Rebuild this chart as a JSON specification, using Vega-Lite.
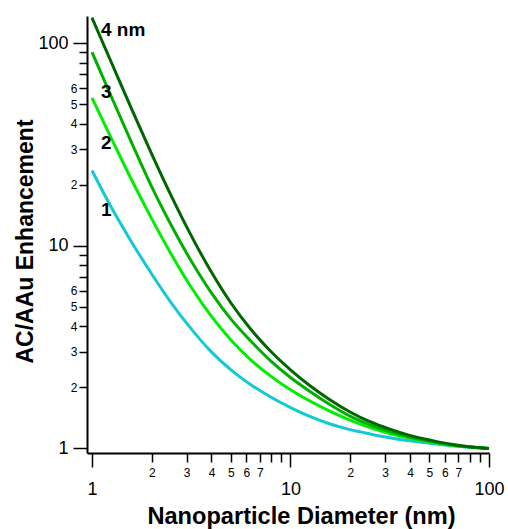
{
  "$schema": "https://vega.github.io/schema/vega-lite/v6.json",
  "width": 402,
  "height": 437,
  "autosize": {"type": "none"},
  "padding": {"left": 87, "top": 16, "right": 19, "bottom": 76},
  "background": "white",
  "config": {"view": {"stroke": null}, "font": "Liberation Sans"},
  "datasets": {
    "curves": [
      {"series": "1", "d": 1, "e": 23.5}, {"series": "1", "d": 1.259, "e": 15.31}, {"series": "1", "d": 1.585, "e": 10.42}, {"series": "1", "d": 1.995, "e": 7.28}, {"series": "1", "d": 2.512, "e": 5.22}, {"series": "1", "d": 3.162, "e": 3.89}, {"series": "1", "d": 3.981, "e": 3.006}, {"series": "1", "d": 5.012, "e": 2.443}, {"series": "1", "d": 6.31, "e": 2.065}, {"series": "1", "d": 7.943, "e": 1.795}, {"series": "1", "d": 10, "e": 1.592}, {"series": "1", "d": 12.59, "e": 1.435}, {"series": "1", "d": 15.85, "e": 1.321}, {"series": "1", "d": 19.95, "e": 1.239}, {"series": "1", "d": 25.12, "e": 1.18}, {"series": "1", "d": 31.62, "e": 1.13}, {"series": "1", "d": 39.81, "e": 1.091}, {"series": "1", "d": 50.12, "e": 1.062}, {"series": "1", "d": 63.1, "e": 1.035}, {"series": "1", "d": 79.43, "e": 1.014}, {"series": "1", "d": 100, "e": 1.0},
      {"series": "2", "d": 1, "e": 53.6}, {"series": "2", "d": 1.259, "e": 33.5}, {"series": "2", "d": 1.585, "e": 21.1}, {"series": "2", "d": 1.995, "e": 13.65}, {"series": "2", "d": 2.512, "e": 9.06}, {"series": "2", "d": 3.162, "e": 6.24}, {"series": "2", "d": 3.981, "e": 4.51}, {"series": "2", "d": 5.012, "e": 3.43}, {"series": "2", "d": 6.31, "e": 2.735}, {"series": "2", "d": 7.943, "e": 2.275}, {"series": "2", "d": 10, "e": 1.95}, {"series": "2", "d": 12.59, "e": 1.71}, {"series": "2", "d": 15.85, "e": 1.524}, {"series": "2", "d": 19.95, "e": 1.38}, {"series": "2", "d": 25.12, "e": 1.268}, {"series": "2", "d": 31.62, "e": 1.186}, {"series": "2", "d": 39.81, "e": 1.125}, {"series": "2", "d": 50.12, "e": 1.079}, {"series": "2", "d": 63.1, "e": 1.04}, {"series": "2", "d": 79.43, "e": 1.016}, {"series": "2", "d": 100, "e": 1.0},
      {"series": "3", "d": 1, "e": 90.2}, {"series": "3", "d": 1.259, "e": 53.7}, {"series": "3", "d": 1.585, "e": 32.2}, {"series": "3", "d": 1.995, "e": 19.63}, {"series": "3", "d": 2.512, "e": 12.59}, {"series": "3", "d": 3.162, "e": 8.41}, {"series": "3", "d": 3.981, "e": 5.89}, {"series": "3", "d": 5.012, "e": 4.345}, {"series": "3", "d": 6.31, "e": 3.388}, {"series": "3", "d": 7.943, "e": 2.704}, {"series": "3", "d": 10, "e": 2.239}, {"series": "3", "d": 12.59, "e": 1.905}, {"series": "3", "d": 15.85, "e": 1.644}, {"series": "3", "d": 19.95, "e": 1.445}, {"series": "3", "d": 25.12, "e": 1.309}, {"series": "3", "d": 31.62, "e": 1.211}, {"series": "3", "d": 39.81, "e": 1.14}, {"series": "3", "d": 50.12, "e": 1.089}, {"series": "3", "d": 63.1, "e": 1.045}, {"series": "3", "d": 79.43, "e": 1.019}, {"series": "3", "d": 100, "e": 1.0},
      {"series": "4 nm", "d": 1, "e": 133.4}, {"series": "4 nm", "d": 1.259, "e": 79.3}, {"series": "4 nm", "d": 1.585, "e": 47.2}, {"series": "4 nm", "d": 1.995, "e": 28.5}, {"series": "4 nm", "d": 2.512, "e": 17.58}, {"series": "4 nm", "d": 3.162, "e": 11.22}, {"series": "4 nm", "d": 3.981, "e": 7.46}, {"series": "4 nm", "d": 5.012, "e": 5.22}, {"series": "4 nm", "d": 6.31, "e": 3.873}, {"series": "4 nm", "d": 7.943, "e": 3.02}, {"series": "4 nm", "d": 10, "e": 2.443}, {"series": "4 nm", "d": 12.59, "e": 2.032}, {"series": "4 nm", "d": 15.85, "e": 1.734}, {"series": "4 nm", "d": 19.95, "e": 1.514}, {"series": "4 nm", "d": 25.12, "e": 1.355}, {"series": "4 nm", "d": 31.62, "e": 1.245}, {"series": "4 nm", "d": 39.81, "e": 1.161}, {"series": "4 nm", "d": 50.12, "e": 1.102}, {"series": "4 nm", "d": 63.1, "e": 1.052}, {"series": "4 nm", "d": 79.43, "e": 1.021}, {"series": "4 nm", "d": 100, "e": 1.0}
    ],
    "labels": [
      {"label": "4 nm", "d": 1.11, "e": 116},
      {"label": "3", "d": 1.11, "e": 57.5},
      {"label": "2", "d": 1.11, "e": 32},
      {"label": "1", "d": 1.11, "e": 15}
    ]
  },
  "layer": [
    {
      "data": {"name": "curves"},
      "mark": {"type": "line", "strokeWidth": 3, "interpolate": "monotone", "clip": true},
      "encoding": {
        "x": {
          "field": "d", "type": "quantitative",
          "scale": {"type": "log", "domain": [0.944, 100], "nice": false},
          "axis": {
            "values": [1, 2, 3, 4, 5, 6, 7, 8, 9, 10, 20, 30, 40, 50, 60, 70, 80, 90, 100],
            "labelExpr": "indexof([1,2,3,4,5,6,7,10,20,30,40,50,60,70,100], datum.value) >= 0 ? ((datum.value == 1 || datum.value == 10 || datum.value == 100 || datum.value < 10) ? '' + datum.value : '' + (datum.value / 10)) : ''",
            "labelFontSize": {"condition": {"test": "datum.value == 1 || datum.value == 10 || datum.value == 100", "value": 18}, "value": 12},
            "labelPadding": {"condition": {"test": "datum.value == 1 || datum.value == 10 || datum.value == 100", "value": 13}, "value": 5},
            "tickSize": {"condition": {"test": "datum.value == 1 || datum.value == 10 || datum.value == 100", "value": 14}, "value": 9},
            "tickWidth": 1.5, "tickColor": "black", "domainColor": "black", "domainWidth": 2,
            "labelColor": "black", "labelFont": "Liberation Sans", "labelFlush": false, "labelOverlap": false, "labelBound": false,
            "grid": false,
            "title": "Nanoparticle Diameter (nm)", "titleFont": "Liberation Sans", "titleFontSize": 23.6, "titleFontWeight": "bold", "titleColor": "black",
            "titleX": 214, "titleY": 70, "titleBaseline": "alphabetic", "titleAlign": "center"
          }
        },
        "y": {
          "field": "e", "type": "quantitative",
          "scale": {"type": "log", "domain": [0.95, 136], "nice": false},
          "axis": {
            "values": [1, 2, 3, 4, 5, 6, 7, 8, 9, 10, 20, 30, 40, 50, 60, 70, 80, 90, 100],
            "labelExpr": "indexof([1,2,3,4,5,6,10,20,30,40,50,60,100], datum.value) >= 0 ? ((datum.value == 1 || datum.value == 10 || datum.value == 100 || datum.value < 10) ? '' + datum.value : '' + (datum.value / 10)) : ''",
            "labelFontSize": {"condition": {"test": "datum.value == 1 || datum.value == 10 || datum.value == 100", "value": 18}, "value": 12},
            "labelPadding": {"condition": {"test": "datum.value == 1 || datum.value == 10 || datum.value == 100", "value": 5}, "value": 2},
            "tickSize": {"condition": {"test": "datum.value == 1 || datum.value == 10 || datum.value == 100", "value": 14}, "value": 8},
            "tickWidth": 1.5, "tickColor": "black", "domainColor": "black", "domainWidth": 2,
            "labelColor": "black", "labelFont": "Liberation Sans", "labelFlush": false, "labelOverlap": false, "labelBound": false,
            "grid": false,
            "title": "AC/AAu Enhancement", "titleFont": "Liberation Sans", "titleFontSize": 23, "titleFontWeight": "bold", "titleColor": "black",
            "titleX": -62, "titleY": 225, "titleBaseline": "middle", "titleAlign": "center", "titleAngle": -90
          }
        },
        "color": {
          "field": "series", "type": "nominal",
          "scale": {"domain": ["1", "2", "3", "4 nm"], "range": ["#14c8d4", "#00ee00", "#00b000", "#006600"]},
          "legend": null
        }
      }
    },
    {
      "data": {"name": "labels"},
      "mark": {"type": "text", "align": "left", "baseline": "middle", "fontSize": 19, "fontWeight": "bold", "font": "Liberation Sans", "color": "black"},
      "encoding": {
        "x": {"field": "d", "type": "quantitative"},
        "y": {"field": "e", "type": "quantitative"},
        "text": {"field": "label", "type": "nominal"}
      }
    }
  ]
}
